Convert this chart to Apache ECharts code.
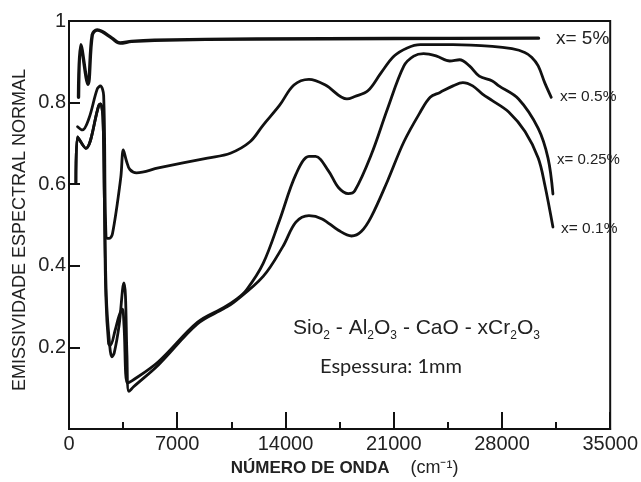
<!DOCTYPE html>
<html>
<head>
<meta charset="utf-8">
<script src="https://cdn.jsdelivr.net/npm/echarts@6/dist/echarts.min.js"></script>
<style>
html,body{margin:0;padding:0;background:#fff;}
#chart{width:641px;height:482px;}
</style>
</head>
<body>
<div id="chart"></div>
<script>
// ---- data (wavenumber cm-1, normal spectral emissivity) ----
const seriesNames = ['x= 5%', 'x= 0.5%', 'x= 0.25%', 'x= 0.1%'];

const curve5 = [[616,0.813],[762,0.942],[1226,0.845],[1505,0.966],[1823,0.978],[2141,0.974],[2776,0.958],[3303,0.946],[4046,0.950],[5526,0.953],[12132,0.956],[21025,0.957],[30363,0.958]];

const curve05 = [[553,0.741],[870,0.733],[1289,0.761],[1823,0.833],[2033,0.841],[2242,0.817],[2395,0.471],[2604,0.467],[2814,0.479],[3348,0.616],[3513,0.684],[3716,0.657],[3938,0.636],[4364,0.628],[5780,0.640],[8956,0.664],[10437,0.676],[11707,0.704],[12558,0.745],[13612,0.793],[14546,0.843],[15518,0.857],[16579,0.843],[17976,0.809],[18484,0.815],[19329,0.829],[20180,0.873],[21025,0.914],[21872,0.934],[22721,0.942],[24836,0.942],[27377,0.938],[28648,0.932],[29473,0.923],[29918,0.911],[30344,0.890],[30763,0.849],[31188,0.813]];

const curve025 = [[445,0.604],[553,0.716],[1080,0.688],[1925,0.793],[2033,0.797],[2191,0.766],[2287,0.568],[2382,0.326],[2560,0.209],[2668,0.205],[2985,0.242],[3240,0.278],[3449,0.294],[3557,0.254],[3767,0.113],[4065,0.118],[5780,0.165],[8321,0.262],[10017,0.298],[10862,0.319],[11497,0.342],[12558,0.406],[13612,0.511],[14673,0.624],[15518,0.668],[15943,0.668],[16789,0.632],[17424,0.592],[18059,0.577],[18484,0.584],[19545,0.672],[20600,0.785],[21660,0.890],[22295,0.914],[22931,0.920],[23776,0.914],[24627,0.902],[25262,0.905],[25897,0.890],[26532,0.865],[27377,0.853],[27803,0.841],[29073,0.809],[30344,0.737],[30979,0.664],[31297,0.576]];

const curve01 = [[445,0.604],[553,0.716],[1080,0.688],[1925,0.793],[2033,0.797],[2191,0.766],[2287,0.568],[2414,0.326],[2604,0.217],[2776,0.177],[2922,0.186],[3240,0.254],[3557,0.358],[3652,0.326],[3748,0.181],[3875,0.092],[4192,0.104],[5780,0.157],[8321,0.258],[10017,0.295],[10652,0.310],[12558,0.374],[13828,0.447],[14673,0.507],[15518,0.523],[16369,0.515],[17424,0.487],[18275,0.473],[18900,0.484],[19545,0.520],[20600,0.608],[21660,0.704],[22721,0.777],[23357,0.813],[23992,0.825],[24836,0.841],[25472,0.849],[26107,0.841],[26742,0.821],[27377,0.805],[28438,0.777],[29492,0.729],[30344,0.664],[30763,0.600],[31297,0.495]];

const xRange = [0, 35000];
const xStep = 7000;
const yRange = [0, 1];
const yStep = 0.2;

const yAxisTitle = 'EMISSIVIDADE ESPECTRAL NORMAL';
const xAxisTitle = 'NÚMERO DE ONDA';
const xAxisUnit = '(cm⁻¹)';
const thicknessText = 'Espessura: 1mm';

// ---- chart ----
const chart = echarts.init(document.getElementById('chart'), null, {renderer: 'canvas'});
const ink = '#111';
const txt = '#222';
const font = '"Liberation Sans", Arial, sans-serif';

function line(name, data, width) {
  return {
    name, type: 'line', data, showSymbol: false, symbol: 'none',
    smooth: 0.35,
    lineStyle: {color: ink, width: width, join: 'round', cap: 'round'},
    z: 3, animation: false
  };
}

chart.setOption({
  animation: false,
  backgroundColor: '#fff',
  grid: {left: 69, right: 21, top: 21, bottom: 47, show: true, borderColor: ink, borderWidth: 2, backgroundColor: 'transparent'},
  xAxis: {
    type: 'value', min: xRange[0], max: xRange[1], interval: xStep,
    axisLine: {show: true, lineStyle: {color: ink, width: 2}},
    axisTick: {show: true, inside: true, length: 17, lineStyle: {color: ink, width: 2}},
    minorTick: {show: true, splitNumber: 2, length: 7, lineStyle: {color: ink, width: 2}},
    splitLine: {show: false},
    axisLabel: {fontSize: 20, color: txt, fontFamily: font, margin: 5, showMaxLabel: true, showMinLabel: true,
      formatter: v => String(v)},
    name: '{b|' + xAxisTitle + '}{g|}{r|' + xAxisUnit + '}',
    nameLocation: 'middle', nameGap: 30,
    nameTextStyle: {
      padding: [0, 0, 0, 10],
      rich: {
        b: {fontSize: 17, fontWeight: 'bold', color: txt, fontFamily: font},
        g: {width: 21},
        r: {fontSize: 18, color: txt, fontFamily: font}
      }
    }
  },
  yAxis: {
    type: 'value', min: yRange[0], max: yRange[1], interval: yStep,
    axisLine: {show: true, lineStyle: {color: ink, width: 2}},
    axisTick: {show: true, inside: true, length: 11, lineStyle: {color: ink, width: 2}},
    splitLine: {show: false},
    axisLabel: {
      fontSize: 20, color: txt, fontFamily: font, margin: 3,
      formatter: v => v === 0 ? '' : (v === 1 ? '1' : v.toFixed(1))
    }
  },
  series: [
    line(seriesNames[0], curve5, 3.4),
    line(seriesNames[1], curve05, 2.8),
    line(seriesNames[2], curve025, 2.8),
    line(seriesNames[3], curve01, 2.8)
  ],
  graphic: [
    {type: 'text', x: 20, y: 230, rotation: Math.PI / 2, z: 10, style: {text: yAxisTitle, fontSize: 18, fill: txt, fontFamily: font, verticalAlign: 'middle', align: 'center'}},
    {type: 'text', x: 556, y: 39, z: 10, style: {text: seriesNames[0], fontSize: 19, fill: txt, fontFamily: font, verticalAlign: 'middle', align: 'left'}},
    {type: 'text', x: 560, y: 97, z: 10, style: {text: seriesNames[1], fontSize: 15.5, fill: txt, fontFamily: font, verticalAlign: 'middle', align: 'left'}},
    {type: 'text', x: 557, y: 160, z: 10, style: {text: seriesNames[2], fontSize: 15, fill: txt, fontFamily: font, verticalAlign: 'middle', align: 'left'}},
    {type: 'text', x: 561, y: 229, z: 10, style: {text: seriesNames[3], fontSize: 15.5, fill: txt, fontFamily: font, verticalAlign: 'middle', align: 'left'}},
    {type: 'text', x: 293, y: 328, z: 10, style: {
      text: '{m|Sio}{s|2}{m| - Al}{s|2}{m|O}{s|3}{m| - CaO - xCr}{s|2}{m|O}{s|3}',
      verticalAlign: 'middle', align: 'left',
      rich: {
        m: {fontSize: 21, fill: txt, fontFamily: font, lineHeight: 28, verticalAlign: 'middle'},
        s: {fontSize: 12, fill: txt, fontFamily: font, lineHeight: 14, verticalAlign: 'bottom'}
      }
    }},
    {type: 'text', x: 320, y: 367, z: 10, style: {text: thicknessText, fontSize: 20, fill: txt, fontFamily: 'Lato, "Open Sans", sans-serif', verticalAlign: 'middle', align: 'left'}}
  ]
});
</script>
</body>
</html>
